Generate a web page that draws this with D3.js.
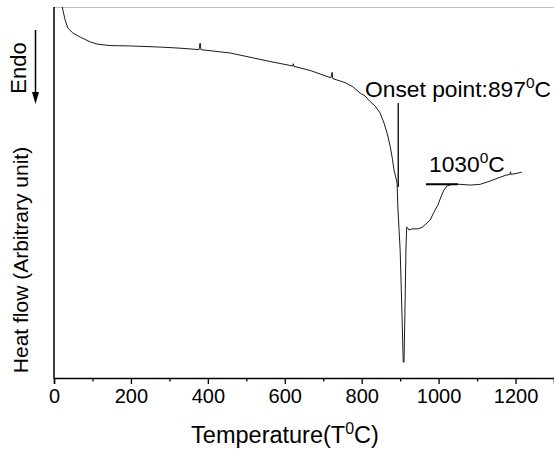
<!DOCTYPE html>
<html><head><meta charset="utf-8">
<script src="https://cdn.jsdelivr.net/npm/d3@7"></script>
<style>
html,body{margin:0;padding:0;background:#fff;}
text{font-family:"Liberation Sans",Arial,sans-serif;fill:#000;}
</style></head>
<body><svg id="c" width="554" height="450"></svg>
<script>
// Temperature (°C) and heat flow (arbitrary units)
const temperature = [18,23,29,36,49,68,94,112,146,198,276,328,377,380,382,458,562,621,622,624,666,720,723,725,757,777,796,809,822,835,848,858,866,874,879,884,892,894,900,905,908,910,913,915,917,920,923,931,946,957,967,978,988,998,1006,1014,1022,1035,1056,1082,1108,1134,1152,1173,1186,1187,1188,1201,1216];
const heatFlow = [101.9,99.2,96.5,94.3,93.0,91.9,90.6,90.0,89.6,89.5,89.2,88.9,88.5,90.3,88.5,87.6,85.3,84.1,84.7,84.0,82.9,80.9,82.4,80.7,79.6,78.5,76.8,76.0,74.5,73.3,71.4,68.7,66.0,62.5,59.6,56.1,52.6,46.1,34.5,16.4,4.3,4.3,21.0,34.5,40.7,40.4,39.9,40.2,40.2,40.6,41.5,42.6,44.7,46.6,48.8,50.7,51.8,52.2,52.2,52.0,52.2,53.1,53.8,54.6,54.9,55.6,54.9,55.1,55.5];
const xTicks = [0,200,400,600,800,1000,1200];
const xMinorTicks = [100,300,500,700,900,1100,1300];
const onsetT = 895, onsetRange = [51.5, 74.1];
const endT = [967, 1050], endLevel = 52.2;

const svg = d3.select("#c");
const x = d3.scaleLinear().domain([0,1300]).range([54,554]);
const y = d3.scaleLinear().domain([0,100]).range([378,7]);

svg.append("line").attr("x1",54).attr("x2",554).attr("y1",7.5).attr("y2",7.5)
  .attr("stroke","#c0c0c0").attr("stroke-width",1);

svg.append("clipPath").attr("id","clip").append("rect")
  .attr("x",54).attr("y",7).attr("width",500).attr("height",371);

const data = temperature.map((t,i)=>[t,heatFlow[i]]);
svg.append("path").datum(data).attr("clip-path","url(#clip)")
  .attr("fill","none").attr("stroke","#1a1a1a").attr("stroke-width",1)
  .attr("d", d3.line().x(d=>x(d[0])).y(d=>y(d[1])));

svg.append("line").attr("x1",x(onsetT)).attr("x2",x(onsetT))
  .attr("y1",y(onsetRange[1])).attr("y2",y(onsetRange[0]))
  .attr("stroke","#000").attr("stroke-width",1.3);
svg.append("line").attr("x1",x(endT[0])).attr("x2",x(endT[1]))
  .attr("y1",y(endLevel)).attr("y2",y(endLevel))
  .attr("stroke","#000").attr("stroke-width",2);

const xAxis = svg.append("g").attr("transform","translate(0,378)")
  .call(d3.axisBottom(x).tickValues(xTicks).tickSize(6).tickPadding(5).tickFormat(d3.format("d")));
xAxis.select(".domain").attr("stroke-width",1.5);
xAxis.selectAll(".tick line").attr("stroke-width",1.3);
xAxis.selectAll(".tick text").style("font-size","20px").style("font-family","'Liberation Sans',Arial,sans-serif");
const xMinor = svg.append("g").attr("transform","translate(0,378)")
  .call(d3.axisBottom(x).tickValues(xMinorTicks).tickSize(3.5).tickFormat(""));
xMinor.select(".domain").remove();
xMinor.selectAll(".tick line").attr("stroke-width",1.3);

svg.append("line").attr("x1",54).attr("x2",54).attr("y1",7).attr("y2",378.5)
  .attr("stroke","#000").attr("stroke-width",1.5);

function sup(textSel, parts){
  parts.forEach(p=>{
    const ts = textSel.append("tspan").text(p.t);
    if(p.sup){ ts.attr("dy",-9).style("font-size","0.68em"); }
    else if(p.after){ ts.attr("dy",9); }
  });
}
const t1 = svg.append("text").attr("x",365).attr("y",97).style("font-size","22.8px");
sup(t1,[{t:"Onset point:897"},{t:"0",sup:true},{t:"C",after:true}]);
const t2 = svg.append("text").attr("x",429).attr("y",172).style("font-size","22.8px");
sup(t2,[{t:"1030"},{t:"0",sup:true},{t:"C",after:true}]);
const t3 = svg.append("text").attr("x",285).attr("y",443).attr("text-anchor","middle").style("font-size","23.5px");
sup(t3,[{t:"Temperature(T"},{t:"0",sup:true},{t:"C)",after:true}]);

svg.append("text").attr("transform","translate(28,260) rotate(-90)").attr("text-anchor","middle")
  .style("font-size","21px").text("Heat flow (Arbitrary unit)");
svg.append("text").attr("transform","translate(26,68) rotate(-90)").attr("text-anchor","middle")
  .style("font-size","22px").text("Endo");

svg.append("line").attr("x1",35.5).attr("x2",35.5).attr("y1",30).attr("y2",95)
  .attr("stroke","#000").attr("stroke-width",1.5);
svg.append("path").attr("d",`M32,92 L39,92 L35.5,104 Z`).attr("fill","#000");
</script></body></html>
